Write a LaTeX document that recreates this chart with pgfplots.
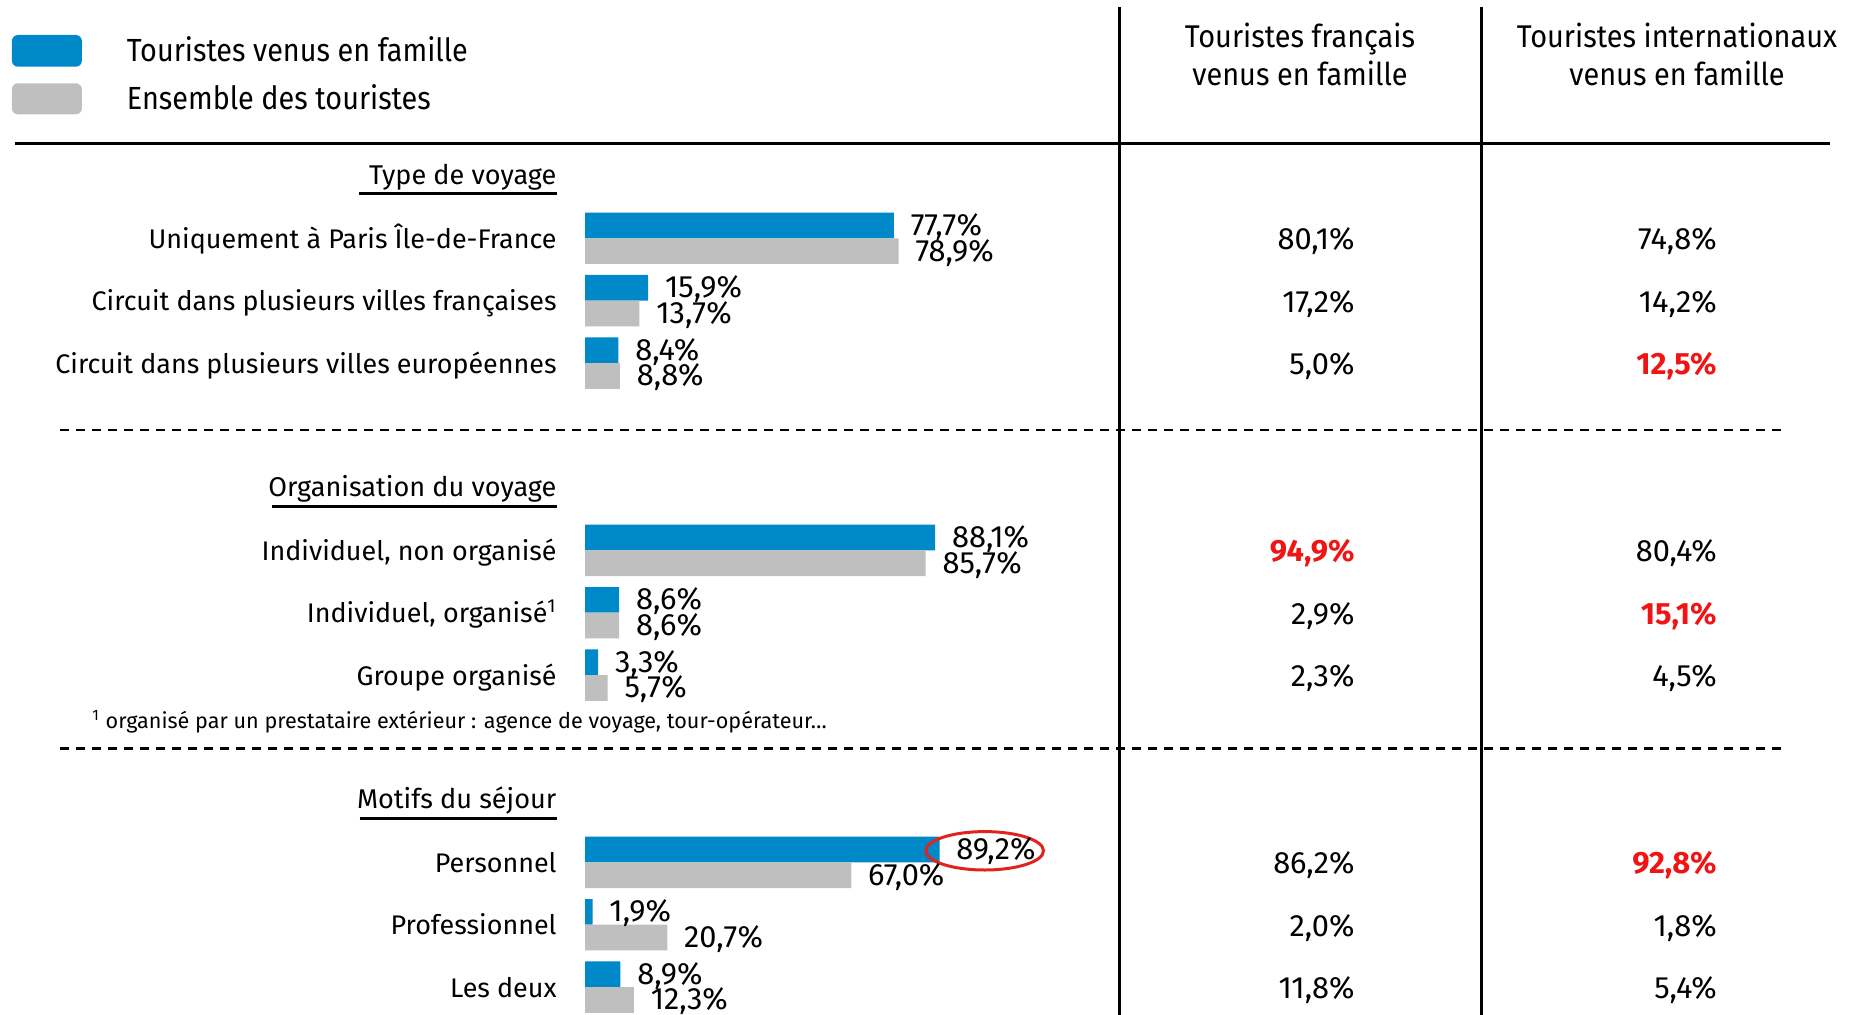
\documentclass[border=0pt]{standalone}
\usepackage{pgfplots}
\pgfplotsset{compat=1.18}
\usepackage{fontspec}
\setmainfont{Fira Sans}
\newfontfamily\narrowfont{Fira Sans}[FakeStretch=0.92]
\newfontfamily\legnarrowfont{Fira Sans}[FakeStretch=0.9]
\definecolor{famblue}{RGB}{0,137,201}
\definecolor{allgray}{RGB}{191,191,191}
\definecolor{hired}{RGB}{240,20,20}
\definecolor{ellred}{RGB}{225,35,30}
\newcommand{\lblfont}{\fontsize{13.45pt}{16pt}\selectfont}
\newcommand{\hdfont}{\fontsize{13.55pt}{17pt}\selectfont}
\newcommand{\valfont}{\fontsize{15.4pt}{18pt}\selectfont}
\newcommand{\tabfont}{\fontsize{15.4pt}{18pt}\selectfont}
\newcommand{\colfont}{\narrowfont\fontsize{15.7pt}{19pt}\selectfont}
\newcommand{\legfont}{\legnarrowfont\fontsize{16pt}{19pt}\selectfont}
\newcommand{\fnfont}{\fontsize{10.8pt}{12pt}\selectfont}
\begin{document}
\begin{tikzpicture}
\begin{axis}[
  name=main, at={(0,0)}, anchor=south west,
  width=928pt, height=507.5pt, scale only axis,
  xmin=-147.17, xmax=319.75,
  ymin=0, ymax=1015, y dir=reverse,
  clip=false,
  hide axis,
  declare function={px(\x)=(\x-585)/3.975;},
  /pgf/number format/.cd, use comma, fixed, fixed zerofill, precision=1, assume math mode=true,
  /pgfplots/.cd,
]
% bars: touristes venus en famille
\addplot[xbar, forget plot, fill=famblue, draw=none, bar width=25.7, bar shift=-12.85,
  point meta=x,
  nodes near coords={\pgfmathprintnumber{\pgfplotspointmeta}\%},
  nodes near coords style={anchor=west, inner sep=0pt, text height=10.2pt, text depth=2.2pt,
    xshift=8.25pt, yshift=5.4pt, font=\valfont, text=black}]
coordinates {(77.7,238.3) (15.9,300.7) (8.4,363.1) (88.1,550.3) (8.6,612.7) (3.3,675.1) (89.2,862.3) (1.9,924.7) (8.9,987.1)};
% bars: ensemble des touristes
\addplot[xbar, forget plot, fill=allgray, draw=none, bar width=25.7, bar shift=12.85,
  point meta=x,
  nodes near coords={\pgfmathprintnumber{\pgfplotspointmeta}\%},
  nodes near coords style={anchor=west, inner sep=0pt, text height=10.2pt, text depth=2.2pt,
    xshift=8.25pt, yshift=-7.4pt, font=\valfont, text=black}]
coordinates {(78.9,238.3) (13.7,300.7) (8.8,363.1) (85.7,550.3) (8.6,612.7) (5.7,675.1) (67.0,862.3) (20.7,924.7) (12.3,987.1)};

% table: touristes francais venus en famille
\addplot[draw=none, mark=none, forget plot, point meta=explicit,
  nodes near coords={\pgfmathprintnumber{\pgfplotspointmeta}\%},
  nodes near coords style={anchor=east, inner sep=0pt, font=\tabfont, text=black}]
coordinates {(193.7,241.3) [80.1] (193.7,303.7) [17.2] (193.7,366.1) [5.0]
  (193.7,615.7) [2.9] (193.7,678.1) [2.3]
  (193.7,865.3) [86.2] (193.7,927.7) [2.0] (193.7,990.1) [11.8]};
\addplot[draw=none, mark=none, forget plot, point meta=explicit,
  nodes near coords={\pgfmathprintnumber{\pgfplotspointmeta}\%},
  nodes near coords style={anchor=east, inner sep=0pt, font=\tabfont\bfseries, text=hired}]
coordinates {(193.7,553.3) [94.9]};
% table: touristes internationaux venus en famille
\addplot[draw=none, mark=none, forget plot, point meta=explicit,
  nodes near coords={\pgfmathprintnumber{\pgfplotspointmeta}\%},
  nodes near coords style={anchor=east, inner sep=0pt, font=\tabfont, text=black}]
coordinates {(284.8,241.3) [74.8] (284.8,303.7) [14.2]
  (284.8,553.3) [80.4] (284.8,678.1) [4.5]
  (284.8,927.7) [1.8] (284.8,990.1) [5.4]};
\addplot[draw=none, mark=none, forget plot, point meta=explicit,
  nodes near coords={\pgfmathprintnumber{\pgfplotspointmeta}\%},
  nodes near coords style={anchor=east, inner sep=0pt, font=\tabfont\bfseries, text=hired}]
coordinates {(284.8,366.1) [12.5] (284.8,615.7) [15.1] (284.8,865.3) [92.8]};

% legend
\fill[famblue, rounded corners=3pt] (axis cs:{px(11.9)},35) rectangle (axis cs:{px(81.9)},66.7);
\fill[allgray, rounded corners=3pt] (axis cs:{px(11.9)},83.3) rectangle (axis cs:{px(81.9)},114.3);
\node[anchor=base west, inner sep=0pt, font=\legfont] at (axis cs:{px(126.5)},61.7) {Touristes venus en famille};
\node[anchor=base west, inner sep=0pt, font=\legfont] at (axis cs:{px(126.5)},109.3) {Ensemble des touristes};

% rules
\draw[line width=1.35pt] (axis cs:{px(15)},143.3) -- (axis cs:{px(1830)},143.3);
\draw[line width=1.5pt] (axis cs:{px(1119)},7.5) -- (axis cs:{px(1119)},1015);
\draw[line width=1.5pt] (axis cs:{px(1481)},7.5) -- (axis cs:{px(1481)},1015);
\draw[line width=1.2pt, dash pattern=on 4.5pt off 3.5pt] (axis cs:{px(60)},430) -- (axis cs:{px(1785)},430);
\draw[line width=1.2pt, dash pattern=on 4.5pt off 3.5pt] (axis cs:{px(60)},748.3) -- (axis cs:{px(1785)},748.3);

% column headers
\node[anchor=base, inner sep=0pt, font=\colfont] at (axis cs:{px(1300)},48) {Touristes français};
\node[anchor=base, inner sep=0pt, font=\colfont] at (axis cs:{px(1300)},86) {venus en famille};
\node[anchor=base, inner sep=0pt, font=\colfont] at (axis cs:{px(1677)},48) {Touristes internationaux};
\node[anchor=base, inner sep=0pt, font=\colfont] at (axis cs:{px(1677)},86) {venus en famille};

% section headings
\node[name=h1, anchor=base east, inner sep=0pt, font=\hdfont] at (axis cs:{px(556.8)},184.3) {Type de voyage};
\draw[line width=1.4pt] ([xshift=-5pt, yshift=-4.5pt]h1.base west) -- ([yshift=-4.5pt]h1.base east);
\node[name=h2, anchor=base east, inner sep=0pt, font=\hdfont] at (axis cs:{px(556.8)},496.7) {Organisation du voyage};
\draw[line width=1.4pt] ([xshift=2pt, yshift=-5pt]h2.base west) -- ([yshift=-5pt]h2.base east);
\node[name=h3, anchor=base east, inner sep=0pt, font=\hdfont] at (axis cs:{px(556.8)},808.3) {Motifs du séjour};
\draw[line width=1.4pt] ([xshift=1.5pt, yshift=-5pt]h3.base west) -- ([yshift=-5pt]h3.base east);

% row labels
\node[anchor=base east, inner sep=0pt, font=\lblfont] at (axis cs:{px(557)},248.3) {Uniquement à Paris Île-de-France};
\node[anchor=base east, inner sep=0pt, font=\lblfont] at (axis cs:{px(557)},310.7) {Circuit dans plusieurs villes françaises};
\node[anchor=base east, inner sep=0pt, font=\lblfont] at (axis cs:{px(557)},373.1) {Circuit dans plusieurs villes européennes};
\node[anchor=base east, inner sep=0pt, font=\lblfont] at (axis cs:{px(557)},560.3) {Individuel, non organisé};
\node[anchor=base east, inner sep=0pt, font=\lblfont] at (axis cs:{px(557)},622.7) {Individuel, organisé\textsuperscript{1}};
\node[anchor=base east, inner sep=0pt, font=\lblfont] at (axis cs:{px(557)},685.1) {Groupe organisé};
\node[anchor=base east, inner sep=0pt, font=\lblfont] at (axis cs:{px(557)},872.3) {Personnel};
\node[anchor=base east, inner sep=0pt, font=\lblfont] at (axis cs:{px(557)},934.7) {Professionnel};
\node[anchor=base east, inner sep=0pt, font=\lblfont] at (axis cs:{px(557)},997.1) {Les deux};

% footnote
\node[anchor=base west, inner sep=0pt, font=\fnfont] at (axis cs:{px(92)},728) {\textsuperscript{1} organisé par un prestataire extérieur : agence de voyage, tour-opérateur…};

% highlight
\draw[ellred, line width=1.5pt] (axis cs:{px(984.7)},850.8) ellipse [x radius=29.4pt, y radius=9.6pt];
\end{axis}
\pgfresetboundingbox
\path[use as bounding box] (main.south west) rectangle (main.north east);
\end{tikzpicture}
\end{document}
